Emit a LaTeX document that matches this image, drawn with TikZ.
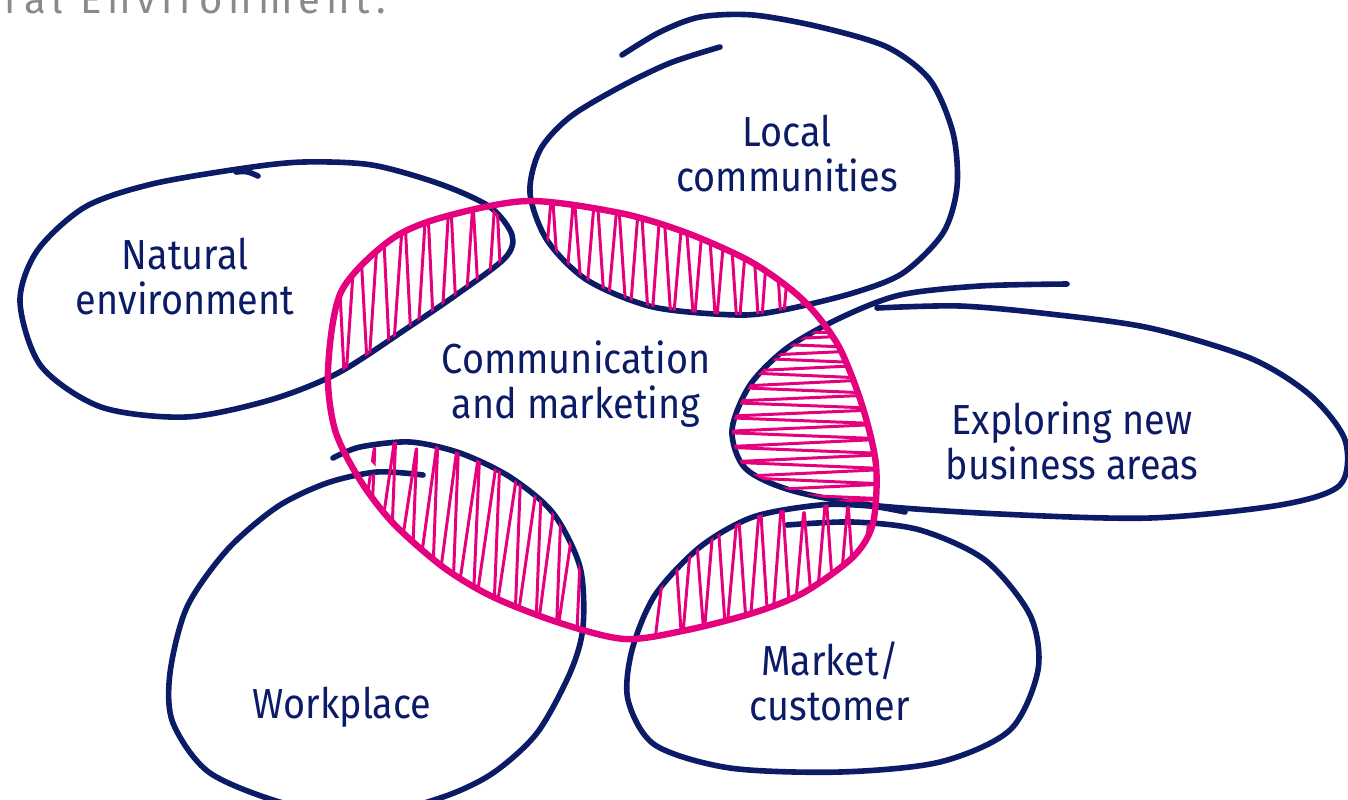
\documentclass[tikz,border=0pt]{standalone}
\usepackage{fontspec}
\newfontfamily\lblfont[FakeStretch=0.9]{Fira Sans}
\newfontfamily\grayfont[LetterSpace=15]{Fira Sans}
\definecolor{navy}{HTML}{0B1B66}
\definecolor{pinkc}{HTML}{E5007D}
\definecolor{graytxt}{HTML}{8A8A8A}
\def\natpts{plot[smooth cycle] coordinates {(245,168) (304,162) (372,165) (440,184) (490,207) (512,235) (505,258) (456,295) (406,329) (338,373) (270,400) (186,417) (101,407) (41,366) (20,302) (37,251) (85,207) (152,184)}}
\def\locpts{plot[smooth] coordinates {(720,47) (670,63) (620,87) (570,117) (540,150) (530,193) (547,240) (587,280) (653,307) (737,315) (783,310) (853,293) (903,273) (943,233) (957,187) (953,133) (930,80) (887,47) (820,27) (753,15) (700,17) (660,32) (622,55)}}
\def\exppts{plot[smooth] coordinates {(1067,284) (980,286) (900,295) (840,318) (787,348) (750,385) (732,430) (745,468) (790,490) (870,505) (1000,514) (1150,518) (1280,505) (1340,485) (1345,440) (1310,395) (1250,358) (1150,328) (1050,314) (960,306) (877,308)}}
\def\mktpts{plot[smooth] coordinates {(787,525) (853,522) (920,530) (985,560) (1030,615) (1038,670) (1010,730) (940,762) (840,772) (730,768) (655,745) (628,700) (632,650) (655,595) (700,547) (753,517) (820,505) (870,506) (905,512)}}
\def\wrkpts{plot[smooth] coordinates {(423,475) (377,472) (327,483) (277,507) (227,550) (187,607) (170,673) (173,723) (210,773) (290,805) (370,815) (443,797) (493,773) (537,733) (570,673) (583,627) (580,567) (553,513) (510,477) (460,453) (410,442) (360,447) (333,458)}}
\def\ringpts{plot[smooth cycle] coordinates {(527,201) (620,213) (687,233) (753,263) (803,300) (838,345) (862,405) (876,465) (873,523) (853,557) (803,593) (753,613) (687,630) (625,639) (560,623) (493,597) (443,567) (393,523) (360,480) (335,430) (328,370) (341,292) (389,241) (440,218)}}
\begin{document}
\begin{tikzpicture}[x=0.5pt,y=-0.5pt,
  blob/.style={draw=navy,line width=2.8pt,line cap=round,line join=round},
  ring/.style={draw=pinkc,line width=3.2pt,line cap=round},
  hatch/.style={draw=pinkc,line width=1.5pt,rounded corners=4pt,line cap=round,line join=round},
  lbl/.style={text=navy,font={\lblfont\fontsize{21}{22.5}\selectfont},align=center,inner sep=0pt}]
\useasboundingbox (0,0) rectangle (1348,799);
\begin{scope}
\clip (0,0) rectangle (1348,799);
\node[anchor=base west,inner sep=0pt,text=graytxt,font={\grayfont\fontsize{20}{24}\selectfont}] (head) at (4,13) {ral Environment.};
% blobs
\draw[blob] \natpts;
\draw[blob] (236,172) .. controls (247,171) .. (258,176);
\draw[blob] \locpts;
\draw[blob] \exppts;
\draw[blob] \mktpts;
\draw[blob] \wrkpts;
% hatching
\begin{scope}
\clip \ringpts; \clip \natpts;
\draw[hatch] (322,390) \foreach \i in {0,...,8} { -- ({335+23*\i},{192+10*sin(137*\i)}) -- ({345+23*\i},{392-12*sin(71*\i)}) };
\end{scope}
\begin{scope}
\clip \ringpts; \clip plot[smooth cycle] coordinates {(720,47) (670,63) (620,87) (570,117) (540,150) (530,193) (547,240) (587,280) (653,307) (737,315) (783,310) (853,293) (903,273) (943,233) (957,187) (953,133) (930,80) (887,47) (820,27) (753,15) (700,17) (660,32)};
\draw[hatch] (540,330) \foreach \i in {0,...,11} { -- ({552+22*\i},{188+8*sin(137*\i)}) -- ({562+22*\i},{335-10*sin(71*\i)}) };
\end{scope}
\begin{scope}
\clip \ringpts; \clip plot[smooth cycle] coordinates {(980,286) (900,295) (840,318) (787,348) (750,385) (732,430) (745,468) (790,490) (870,505) (1000,514) (1000,306) };
\draw[hatch] (720,330) \foreach \i in {0,...,11} { -- ({892+6*sin(97*\i)},{334+15*\i}) -- ({718+10*sin(53*\i)},{342+15*\i}) };
\end{scope}
\begin{scope}
\clip \ringpts; \clip plot[smooth cycle] coordinates {(377,472) (327,483) (277,507) (227,550) (187,607) (170,673) (173,723) (210,773) (290,805) (370,815) (443,797) (493,773) (537,733) (570,673) (583,627) (580,567) (553,513) (510,477) (460,453) (410,442) (360,447)};
\draw[hatch] (335,470) \foreach \i in {0,...,11} { -- ({354+21*\i},{438+8*sin(137*\i)}) -- ({346+21*\i},{640-10*sin(71*\i)}) };
\end{scope}
\begin{scope}
\clip \ringpts; \clip plot[smooth cycle] coordinates {(853,522) (920,530) (985,560) (1030,615) (1038,670) (1010,730) (940,762) (840,772) (730,768) (655,745) (628,700) (632,650) (655,595) (700,547) (753,517) (820,505) (870,506)};
\draw[hatch] (655,640) \foreach \i in {0,...,10} { -- ({672+22*\i},{500+8*sin(137*\i)}) -- ({682+22*\i},{645-10*sin(71*\i)}) };
\end{scope}
% ring
\draw[ring] \ringpts;
% labels
\node[lbl] (loc) at (787,153) {Local\\communities};
\node[lbl] (nat) at (185,276) {Natural\\environment};
\node[lbl] (com) at (576,384) {Communication\\and marketing};
\node[lbl] (exp) at (1072,441) {Exploring new\\business areas};
\node[lbl] (mkt) at (830,681) {Market/\\customer};
\node[lbl,anchor=base] (wrk) at (342,718) {Workplace};
\end{scope}
\end{tikzpicture}
\end{document}
